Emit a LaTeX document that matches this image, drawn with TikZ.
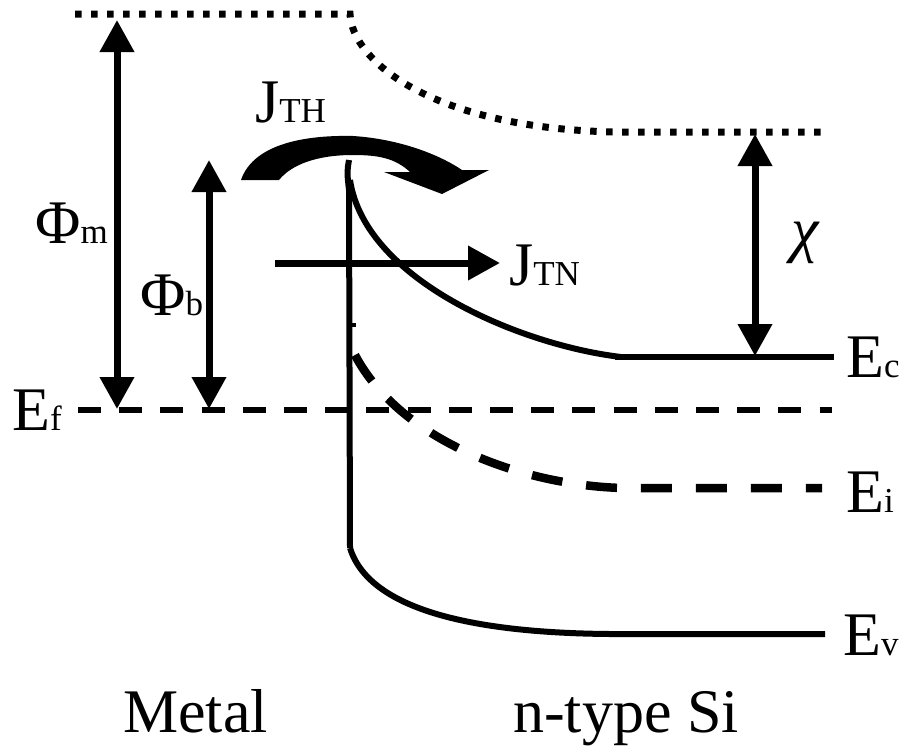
\documentclass[tikz,border=0pt]{standalone}
\usepackage{fontspec}
\setmainfont{Liberation Serif}
\newfontfamily\tms{Liberation Serif}
\usetikzlibrary{arrows.meta}
\newcommand\biglab[2]{{\tms\fontsize{62}{62}\selectfont #1}{\tms\fontsize{35}{35}\selectfont #2}}
\begin{document}
\begin{tikzpicture}[x=1pt,y=-1pt,
  font=\tms,
  band/.style={line width=6pt},
  dotline/.style={line width=7pt, dash pattern=on 6.5pt off 9.5pt},
  efline/.style={line width=6.5pt, dash pattern=on 23pt off 18.2pt},
  eiline/.style={line width=8.5pt, dash pattern=on 31pt off 24pt},
  dbl/.style={line width=7pt, {Triangle[length=32pt,width=33pt]}-{Triangle[length=32pt,width=33pt]}},
  sgl/.style={line width=7pt, -{Triangle[length=32pt,width=33pt]}},
  lab/.style={inner sep=0pt, anchor=base west}]
\useasboundingbox (0,0) rectangle (907,747);

% coordinates
\coordinate (vac0) at (75,14);
\coordinate (vac1) at (350,14);
\coordinate (vac2) at (615,132);
\coordinate (vac3) at (830,132);
\coordinate (if0) at (349,160);
\coordinate (if1) at (349,190);
\coordinate (if2) at (350,548);
\coordinate (ec0) at (350,180);
\coordinate (ec1) at (621,357);
\coordinate (ec2) at (615,357);
\coordinate (ec3) at (834,357);
\coordinate (ei0) at (355,355);
\coordinate (ei1) at (622,488);
\coordinate (ei2) at (822,488);
\coordinate (tk0) at (350,325);
\coordinate (tk1) at (356,325);
\coordinate (ev1) at (610,634);
\coordinate (ev2) at (825,634);
\coordinate (ef0) at (78,410);
\coordinate (ef1) at (832,410);
\coordinate (mtop) at (117,20);
\coordinate (mbot) at (117,409);
\coordinate (btop) at (209,160);
\coordinate (bbot) at (209,409);
\coordinate (ctop) at (755,134);
\coordinate (cbot) at (755,356);
\coordinate (tn0) at (275,263);
\coordinate (tn1) at (500,263);

% vacuum level
\draw[dotline] (vac0) -- (vac1) .. controls (352,60) and (430,128) .. (vac2) -- (vac3);
% interface
\draw[band] (if0) .. controls (347,172) .. (if1) -- (if2);
\draw[line width=4pt] (tk0) -- (tk1);
% conduction band
\draw[band] (ec0) .. controls (365,280) and (520,345) .. (ec1);
\draw[band] (ec2) -- (ec3);
% intrinsic level
\draw[eiline] (ei0) .. controls (400,440) and (520,485) .. (ei1) -- (ei2);
% valence band
\draw[band] (if2) .. controls (370,612) and (480,633) .. (ev1) -- (ev2);
% Fermi level
\draw[efline] (ef0) -- (ef1);

% arrows
\draw[dbl] (mtop) -- (mbot);
\draw[dbl] (btop) -- (bbot);
\draw[dbl] (ctop) -- (cbot);
\draw[sgl] (tn0) -- (tn1);

% thermionic curved arrow
\fill (241,180) .. controls (254,142) and (310,135) .. (353,136)
  .. controls (400,139) and (440,155) .. (462,170) -- (489,170) -- (442,194) -- (384,172) -- (410,172)
  .. controls (395,158) and (378,155) .. (353,155)
  .. controls (318,155) and (292,164) .. (279,180) -- cycle;

% labels
\node[lab] (lef) at (12,430) {\biglab{E}{f}};
\node[lab] (lpm) at (35,243) {\biglab{Φ}{m}};
\node[lab] (lpb) at (140,315) {\biglab{Φ}{b}};
\node[lab] (ljth) at (255,122) {\biglab{J}{TH}};
\node[lab] (ljtn) at (509,285) {\biglab{J}{TN}};
\node[inner sep=0pt] (lchi) at (805,243) {\tms\fontsize{62}{62}\selectfont\itshape χ};
\node[lab] (lec) at (846,377) {\biglab{E}{c}};
\node[lab] (lei) at (846,512) {\biglab{E}{i}};
\node[lab] (lev) at (843,655) {\biglab{E}{v}};
\node[lab] (lmetal) at (123,732) {\tms\fontsize{62}{62}\selectfont Metal};
\node[lab] (lsi) at (513,732) {\tms\fontsize{62}{62}\selectfont n-type Si};
\end{tikzpicture}
\end{document}
